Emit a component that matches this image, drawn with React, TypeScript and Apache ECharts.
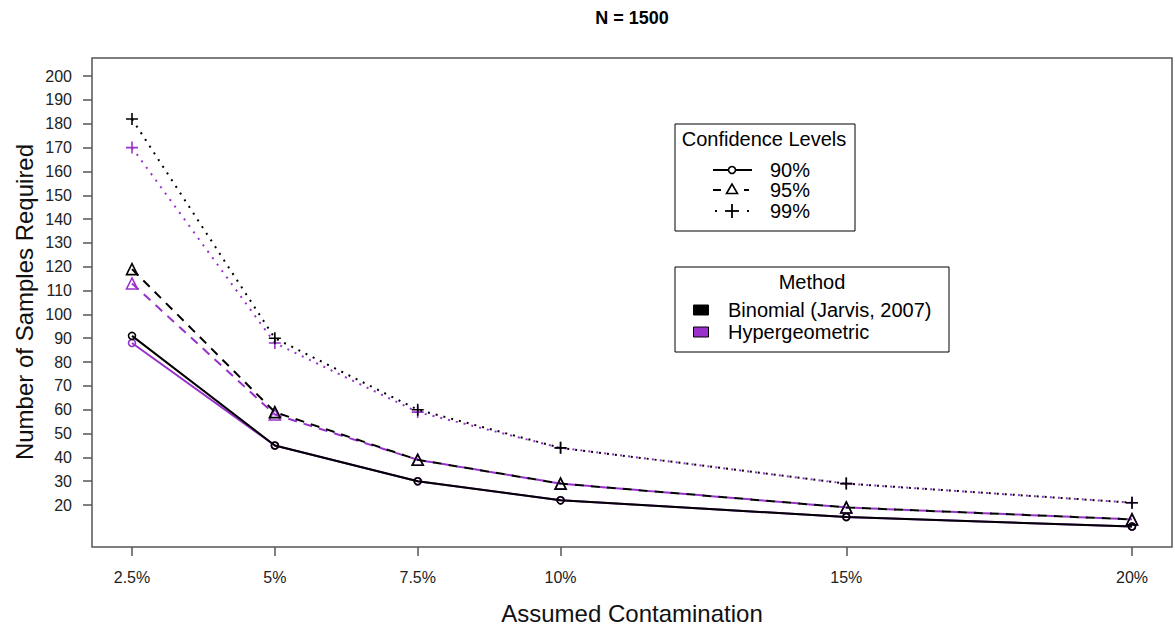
import React, { useEffect, useRef } from "react";
import * as echarts from "echarts";

const contamination = [2.5, 5, 7.5, 10, 15, 20];
const yTicks = [20, 30, 40, 50, 60, 70, 80, 90, 100, 110, 120, 130, 140, 150, 160, 170, 180, 190, 200];

const binom90 = [91, 45, 30, 22, 15, 11];
const binom95 = [119, 59, 39, 29, 19, 14];
const binom99 = [182, 90, 60, 44, 29, 21];
const hyper90 = [88, 45, 30, 22, 15, 11];
const hyper95 = [113, 58, 39, 29, 19, 14];
const hyper99 = [170, 88, 59, 44, 29, 21];

const BLACK = "#000000";
const PURPLE = "#9932CC";
const FONT = "'Liberation Sans', Arial, sans-serif";
const PLUS = "path://M0,5L10,5M5,0L5,10";

function pairs(vals: number[]) {
  return contamination.map((x, i) => [x, vals[i]]);
}

function mkSeries(name: string, vals: number[], color: string, level: number, z: number) {
  const lineType =
    level === 90 ? "solid" : level === 95 ? [9, 7] : [2, 6];
  const symbol = level === 90 ? "circle" : level === 95 ? "triangle" : PLUS;
  const size = level === 90 ? 7 : level === 95 ? 11 : 12;
  return {
    name,
    type: "line",
    data: pairs(vals),
    z,
    symbol,
    symbolSize: size,
    showSymbol: true,
    lineStyle: { color, width: 2, type: lineType },
    itemStyle: { color: "rgba(0,0,0,0)", borderColor: color, borderWidth: 1.6 },
    emphasis: { disabled: true },
  };
}

export default function App() {
  const ref = useRef<HTMLDivElement>(null);
  useEffect(() => {
    if (!ref.current) return;
    const chart = echarts.init(ref.current, undefined, { renderer: "svg" });
    const axisGray = "#555555";
    const lx1 = 713, lx2 = 752, lmid = 732;
    const option: any = {
      animation: false,
      backgroundColor: "#ffffff",
      grid: {
        left: 92, right: 3, top: 58, bottom: 81,
        show: true, borderColor: axisGray, borderWidth: 1.5, backgroundColor: "transparent",
      },
      xAxis: {
        type: "value",
        min: 1.8,
        max: 20.7,
        splitLine: { show: false },
        axisLine: { show: false },
        axisTick: { show: true, length: 9, lineStyle: { color: axisGray, width: 1.5 }, customValues: contamination },
        axisLabel: {
          customValues: contamination,
          formatter: (v: number) => v + "%",
          margin: 22,
          fontSize: 16,
          fontFamily: FONT,
          color: "#222",
        },
      },
      yAxis: {
        type: "value",
        min: 2.4,
        max: 207.6,
        splitLine: { show: false },
        axisLine: { show: false },
        axisTick: { show: true, length: 9, lineStyle: { color: axisGray, width: 1.5 }, customValues: yTicks },
        axisLabel: {
          customValues: yTicks,
          margin: 20,
          fontSize: 16,
          fontFamily: FONT,
          color: "#222",
        },
      },
      series: [
        mkSeries("Hypergeometric 90%", hyper90, PURPLE, 90, 2),
        mkSeries("Hypergeometric 95%", hyper95, PURPLE, 95, 2),
        mkSeries("Hypergeometric 99%", hyper99, PURPLE, 99, 2),
        mkSeries("Binomial 90%", binom90, BLACK, 90, 3),
        mkSeries("Binomial 95%", binom95, BLACK, 95, 3),
        mkSeries("Binomial 99%", binom99, BLACK, 99, 3),
      ],
      graphic: [
        { type: "text", x: 632, y: 18, style: { text: "N = 1500", font: `bold 18px ${FONT}`, fill: "#000", align: "center", verticalAlign: "middle" } },
        { type: "text", x: 632, y: 613, style: { text: "Assumed Contamination", font: `24px ${FONT}`, fill: "#111", align: "center", verticalAlign: "middle" } },
        { type: "text", x: 24, y: 302, rotation: Math.PI / 2, style: { text: "Number of Samples Required", font: `24px ${FONT}`, fill: "#111", align: "center", verticalAlign: "middle" } },
        // Confidence Levels legend
        { type: "rect", shape: { x: 675, y: 124, width: 180, height: 107 }, style: { fill: "#fff", stroke: "#000", lineWidth: 1 }, z: 10 },
        { type: "text", x: 764, y: 139, z: 11, style: { text: "Confidence Levels", font: `20px ${FONT}`, fill: "#000", align: "center", verticalAlign: "middle" } },
        { type: "line", z: 11, shape: { x1: lx1, y1: 170, x2: lx2, y2: 170 }, style: { stroke: "#000", lineWidth: 2 } },
        { type: "circle", z: 12, shape: { cx: lmid, cy: 170, r: 3.5 }, style: { fill: "#fff", stroke: "#000", lineWidth: 1.6 } },
        { type: "text", x: 770, y: 170, z: 11, style: { text: "90%", font: `20px ${FONT}`, fill: "#000", align: "left", verticalAlign: "middle" } },
        { type: "line", z: 11, shape: { x1: lx1, y1: 190, x2: 721, y2: 190 }, style: { stroke: "#000", lineWidth: 2 } },
        { type: "line", z: 11, shape: { x1: 744, y1: 190, x2: 749, y2: 190 }, style: { stroke: "#000", lineWidth: 2 } },
        { type: "polygon", z: 12, shape: { points: [[lmid, 184], [lmid - 5.5, 193.5], [lmid + 5.5, 193.5]] }, style: { fill: "#fff", stroke: "#000", lineWidth: 1.6 } },
        { type: "text", x: 770, y: 190, z: 11, style: { text: "95%", font: `20px ${FONT}`, fill: "#000", align: "left", verticalAlign: "middle" } },
        { type: "line", z: 11, shape: { x1: 715, y1: 211, x2: 717, y2: 211 }, style: { stroke: "#000", lineWidth: 2 } },
        { type: "line", z: 11, shape: { x1: 747, y1: 211, x2: 749, y2: 211 }, style: { stroke: "#000", lineWidth: 2 } },
        { type: "line", z: 12, shape: { x1: lmid - 7, y1: 211, x2: lmid + 7, y2: 211 }, style: { stroke: "#000", lineWidth: 1.8 } },
        { type: "line", z: 12, shape: { x1: lmid, y1: 204, x2: lmid, y2: 218 }, style: { stroke: "#000", lineWidth: 1.8 } },
        { type: "text", x: 770, y: 211, z: 11, style: { text: "99%", font: `20px ${FONT}`, fill: "#000", align: "left", verticalAlign: "middle" } },
        // Method legend
        { type: "rect", shape: { x: 675, y: 267, width: 274, height: 85 }, style: { fill: "#fff", stroke: "#000", lineWidth: 1 }, z: 10 },
        { type: "text", x: 812, y: 282, z: 11, style: { text: "Method", font: `20px ${FONT}`, fill: "#000", align: "center", verticalAlign: "middle" } },
        { type: "rect", z: 11, shape: { x: 693.5, y: 305, width: 15, height: 10 }, style: { fill: BLACK, stroke: "#000", lineWidth: 1 } },
        { type: "text", x: 728, y: 310, z: 11, style: { text: "Binomial (Jarvis, 2007)", font: `20px ${FONT}`, fill: "#000", align: "left", verticalAlign: "middle" } },
        { type: "rect", z: 11, shape: { x: 693.5, y: 327, width: 15, height: 10 }, style: { fill: PURPLE, stroke: "#000", lineWidth: 1 } },
        { type: "text", x: 728, y: 332, z: 11, style: { text: "Hypergeometric", font: `20px ${FONT}`, fill: "#000", align: "left", verticalAlign: "middle" } },
      ],
    };
    chart.setOption(option);
    return () => chart.dispose();
  }, []);
  return (
    <div style={{ position: "fixed", left: 0, top: 0, width: 1175, height: 628, background: "#fff" }}>
      <div ref={ref} style={{ width: 1175, height: 628 }} />
    </div>
  );
}
